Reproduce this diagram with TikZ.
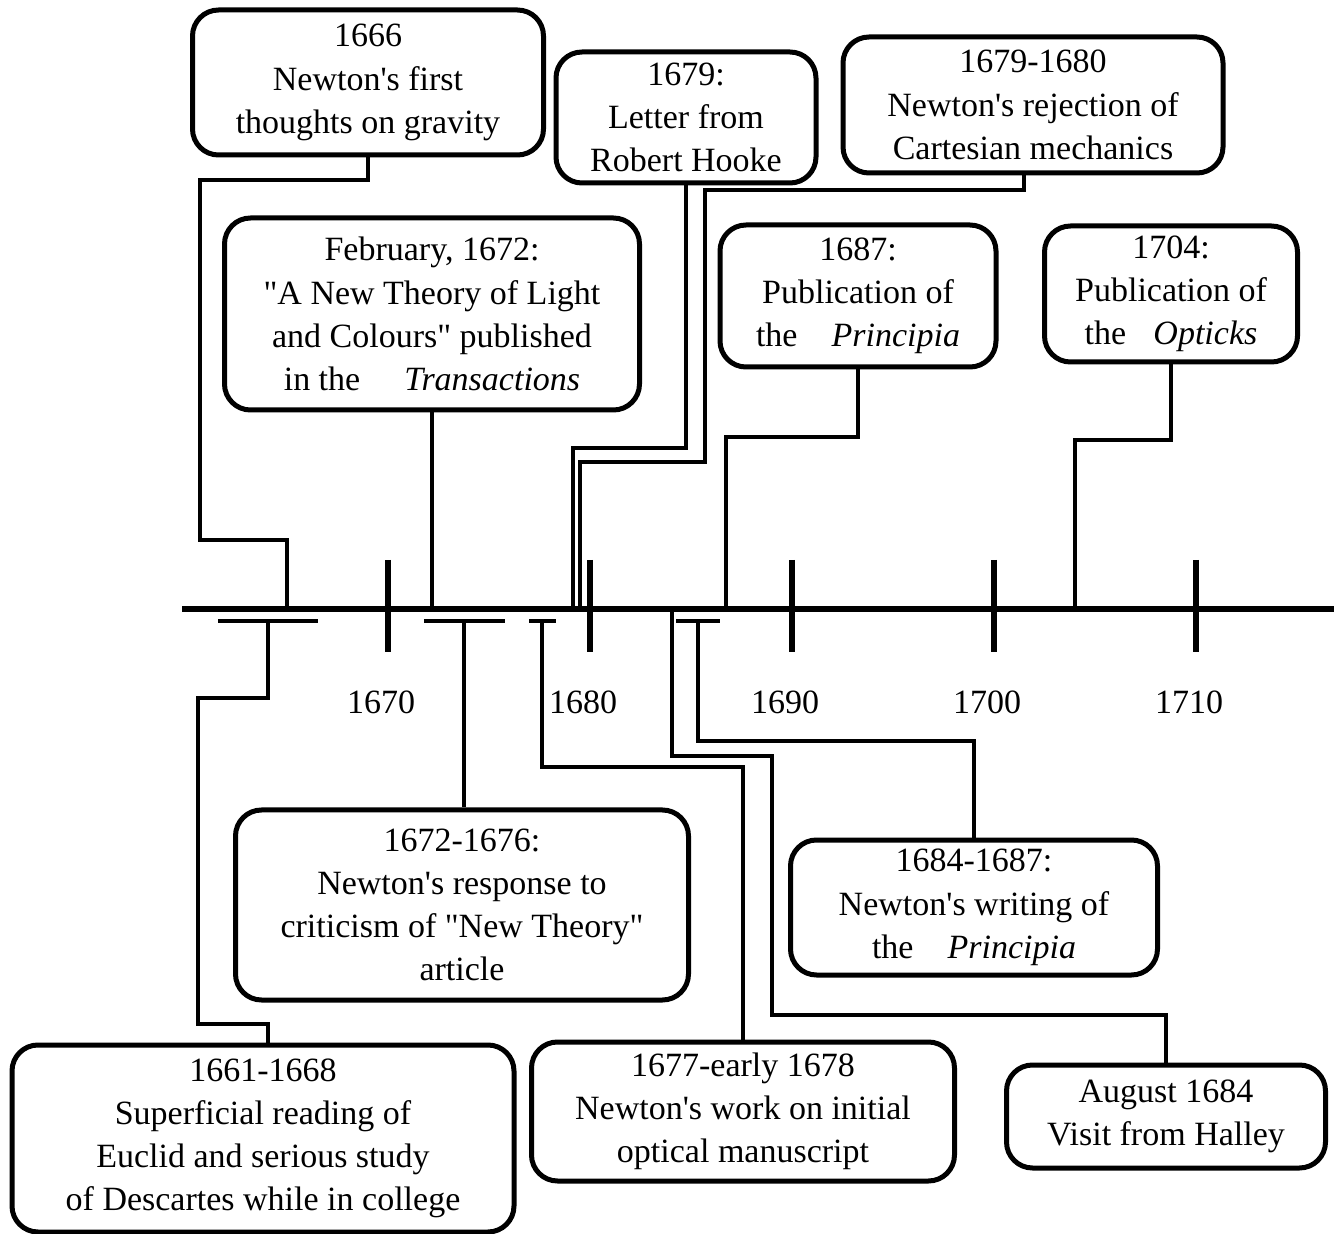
\documentclass[tikz,border=0pt]{standalone}
\usepackage{fontspec}
\setmainfont{Liberation Serif}[Ligatures=TeXOff]
\usepackage{tikz}
\tikzset{event/.style={draw,line width=2.5pt,rounded corners=13pt,align=center,inner sep=0pt,font=\fontsize{17}{21.6}\selectfont}}
\tikzset{link/.style={line width=1.6pt}}
\tikzset{span/.style={fill=black,inner sep=0pt,minimum height=1.6pt}}
\tikzset{yeartick/.style={line width=3pt}}
\tikzset{year/.style={font=\fontsize{17}{21.6}\selectfont}}

\begin{document}
\begin{tikzpicture}[x=0.5pt,y=-0.5pt]
    \useasboundingbox (0,0) rectangle (1344,1234);
    % events above the line
    \node[event,minimum width=175.5pt,minimum height=72.5pt] (gravity) at (368,82.5) {1666\\Newton's first\\thoughts on gravity};
    \node[event,minimum width=130pt,minimum height=65.5pt] (hooke) at (686,117.5) {1679:\\Letter from\\Robert Hooke};
    \node[event,minimum width=190pt,minimum height=68pt] (cartesian) at (1033,105) {1679-1680\\Newton's rejection of\\Cartesian mechanics};
    \node[event,minimum width=207.5pt,minimum height=96pt] (light) at (432,314) {February, 1672:\\"A New Theory of Light\\and Colours" published\\in the\hspace{1.3em}\textit{Transactions}};
    \node[event,minimum width=138pt,minimum height=71pt] (principia) at (858,296) {1687:\\Publication of\\the\hspace{1em}\textit{Principia}};
    \node[event,minimum width=126.5pt,minimum height=68pt] (opticks) at (1171,294) {1704:\\Publication of\\the\hspace{0.8em}\textit{Opticks}};
    % events below the line
    \node[event,minimum width=226.5pt,minimum height=95pt] (response) at (462,905) {1672-1676:\\Newton's response to\\criticism of "New Theory"\\article};
    \node[event,minimum width=183.5pt,minimum height=67.5pt] (writing) at (974,907.5) {1684-1687:\\Newton's writing of\\the\hspace{1em}\textit{Principia}};
    \node[event,minimum width=251pt,minimum height=93.5pt] (college) at (263,1138.5) {1661-1668\\Superficial reading of\\Euclid and serious study\\of Descartes while in college};
    \node[event,minimum width=211.5pt,minimum height=69.5pt] (optical) at (743,1111.5) {1677-early 1678\\Newton's work on initial\\optical manuscript};
    \node[event,minimum width=159.5pt,minimum height=51.5pt] (halley) at (1166,1116.5) {August 1684\\Visit from Halley};
    % time line
    \coordinate (axL) at (182,609);
    \coordinate (axR) at (1334,609);
    \draw[line width=2.8pt] (axL) -- (axR);
    \foreach \x/\yr in {388/1670,590/1680,792/1690,994/1700,1196/1710}{
        \draw[yeartick] (\x,560) -- (\x,652);
        \node[year] (y\yr) at (\x-7,702) {\yr};
    }
    \coordinate (t1666) at (287,609);
    \coordinate (t1679) at (573,609);
    \coordinate (t1680) at (580,609);
    \coordinate (t1687) at (726,609);
    \coordinate (t1704) at (1075,609);
    \coordinate (t1684) at (672,609);
    % spans
    \node[span,minimum width=50pt] (s1661) at (268,621) {};
    \node[span,minimum width=40.5pt] (s1672) at (464,621) {};
    \node[span,minimum width=13.5pt] (s1677) at (542,621) {};
    \node[span,minimum width=22pt] (s1684) at (698,621) {};
    % connectors
    \draw[link] (gravity.south) |- (200,180) |- (287,540) -- (t1666);
    \draw[link] (light.south) -- (light.south |- axL);
    \draw[link] (hooke.south) |- (573,448) -- (t1679);
    \draw[link] ([xshift=-4.5pt]cartesian.south) |- (705,190) |- (580,462) -- (t1680);
    \draw[link] (principia.south) |- (726,437) -- (t1687);
    \draw[link] (opticks.south) |- (1075,440) -- (t1704);
    \draw[link] (s1661.south) |- (198,698) |- (268,1024) -- (college.north -| s1661);
    \draw[link] (s1672.south) -- (response.north -| s1672);
    \draw[link] (s1677.south) |- (743,767) -- (optical.north);
    \draw[link] (t1684) |- (772,756) |- (1166,1015) -- (halley.north);
    \draw[link] (s1684.south) |- (974,741) -- (writing.north);
\end{tikzpicture}
\end{document}
